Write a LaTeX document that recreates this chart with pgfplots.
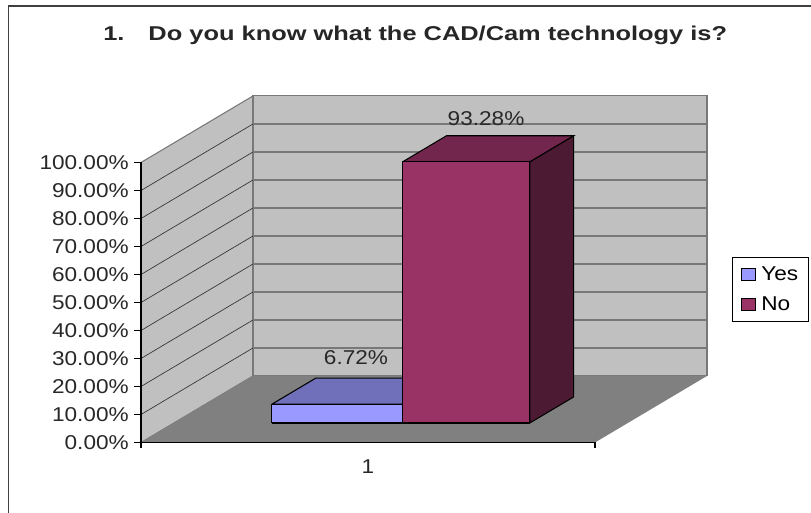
\documentclass[border=0pt]{standalone}
\usepackage{fontspec}
\setmainfont[FakeStretch=1.13]{Liberation Sans}
\newfontfamily\titlefam[FakeStretch=1.27]{Liberation Sans}
\usepackage{pgfplots}
\pgfplotsset{compat=1.18}
\definecolor{wall}{RGB}{192,192,192}
\definecolor{floorgray}{RGB}{128,128,128}
\definecolor{wallline}{RGB}{120,120,120}
\definecolor{yesfront}{RGB}{153,153,255}
\definecolor{yesdark}{RGB}{112,112,186}
\definecolor{nofront}{RGB}{153,51,102}
\definecolor{notop}{RGB}{115,38,77}
\definecolor{noside}{RGB}{77,26,51}
\definecolor{txt}{RGB}{40,40,40}
\newcommand{\chartfont}{\fontsize{15}{18}\selectfont}
\pgfplotsset{sqlegend/.style={legend image code/.code={\draw[##1,line width=0.8pt] (0cm,-0.16cm) rectangle (0.38cm,0.16cm);}}}
\begin{document}
\begin{tikzpicture}[x=0.75pt,y=0.75pt]
\useasboundingbox (0,0) rectangle (811,-513);
\draw[line width=1.2pt,black!75] (8.5,-513) -- (8.5,-6) -- (811,-6);
\begin{axis}[
    at={(105.75pt,-331.875pt)}, anchor=origin,
    x={(340.5pt,0pt)}, y={(84pt,49.9pt)}, z={(0pt,2.1pt)},
    xmin=0, xmax=1, ymin=0, ymax=1, zmin=0, zmax=100,
    clip=false,
    axis lines=left,
    axis line style={-,black,line width=0.9pt},
    y axis line style={draw=none},
    tick align=outside,
    tick style={draw=none},
    major tick length=0pt,
    ytick=\empty,
    xtick={0.5}, xticklabels={1},
    ztick={0,10,20,30,40,50,60,70,80,90,100},
    zticklabels={0.00\%,10.00\%,20.00\%,30.00\%,40.00\%,50.00\%,60.00\%,70.00\%,80.00\%,90.00\%,100.00\%},
    tick label style={font=\chartfont,text=txt},
    z tick label style={anchor=east,inner sep=0pt,xshift=-9pt},
    x tick label style={anchor=north,inner sep=0pt,yshift=-12.5pt},
    legend style={at={(axis cs:1.302,0,66.25)},anchor=north west,font=\chartfont,
        draw=black,line width=0.6pt,row sep=6.5pt,inner xsep=6pt,inner ysep=5pt},
    legend cell align=left,
]
% walls
\addplot3[fill=wall,draw=wallline,line width=0.8pt,forget plot] coordinates {(0,0,0) (0,1,0) (0,1,100) (0,0,100) (0,0,0)};
\addplot3[fill=wall,draw=wallline,line width=0.8pt,forget plot] coordinates {(0,1,0) (1,1,0) (1,1,100) (0,1,100) (0,1,0)};
% gridlines
\addplot3[black!80,line width=0.5pt,forget plot] coordinates {
(0,0,10) (0,1,10)

(0,0,20) (0,1,20)

(0,0,30) (0,1,30)

(0,0,40) (0,1,40)

(0,0,50) (0,1,50)

(0,0,60) (0,1,60)

(0,0,70) (0,1,70)

(0,0,80) (0,1,80)

(0,0,90) (0,1,90)
};
\addplot3[wallline,line width=1pt,forget plot] coordinates {
(0,1,10) (1,1,10)

(0,1,20) (1,1,20)

(0,1,30) (1,1,30)

(0,1,40) (1,1,40)

(0,1,50) (1,1,50)

(0,1,60) (1,1,60)

(0,1,70) (1,1,70)

(0,1,80) (1,1,80)

(0,1,90) (1,1,90)
};
% floor
\addplot3[fill=floorgray,draw=none,forget plot] coordinates {(0,0,0) (1,0,0) (1,1,0) (0,1,0) (0,0,0)};
% axis lines and tick marks
\addplot3[black,line width=0.9pt,forget plot] coordinates {
(0,0,0) (1,0,0)

(0,0,-2) (0,0,100)

(1,0,0) (1,0,-2)

(-0.015,0,0) (0,0,0)

(-0.015,0,10) (0,0,10)

(-0.015,0,20) (0,0,20)

(-0.015,0,30) (0,0,30)

(-0.015,0,40) (0,0,40)

(-0.015,0,50) (0,0,50)

(-0.015,0,60) (0,0,60)

(-0.015,0,70) (0,0,70)

(-0.015,0,80) (0,0,80)

(-0.015,0,90) (0,0,90)

(-0.015,0,100) (0,0,100)
};
% Yes bar
\addplot3[fill=yesdark,draw=black,line width=0.8pt,forget plot] coordinates {(0.216,0.293,6.72) (0.504,0.293,6.72) (0.504,0.685,6.72) (0.216,0.685,6.72) (0.216,0.293,6.72)};
\addplot3[fill=yesfront,draw=black,line width=0.8pt,forget plot] coordinates {(0.216,0.293,0) (0.504,0.293,0) (0.504,0.293,6.72) (0.216,0.293,6.72) (0.216,0.293,0)};
% No bar
\addplot3[fill=noside,draw=black,line width=0.8pt,forget plot] coordinates {(0.784,0.293,0) (0.784,0.685,0) (0.784,0.685,93.28) (0.784,0.293,93.28) (0.784,0.293,0)};
\addplot3[fill=notop,draw=black,line width=0.8pt,forget plot] coordinates {(0.504,0.293,93.28) (0.784,0.293,93.28) (0.784,0.685,93.28) (0.504,0.685,93.28) (0.504,0.293,93.28)};
\addplot3[fill=nofront,draw=black,line width=0.8pt,forget plot] coordinates {(0.504,0.293,0) (0.784,0.293,0) (0.784,0.293,93.28) (0.504,0.293,93.28) (0.504,0.293,0)};
\addlegendimage{sqlegend,fill=yesfront,draw=black}
\addlegendentry{\hspace{2pt}Yes\hspace{13pt}}
\addlegendimage{sqlegend,fill=nofront,draw=black}
\addlegendentry{\hspace{2pt}No}
\node[font=\chartfont,text=txt] at (axis cs:0.4736,0,30.2) {6.72\%};
\node[font=\chartfont,text=txt] at (axis cs:0.760,0,115.5) {93.28\%};
\node[font=\chartfont\bfseries\titlefam,text=black!85] at (axis cs:0.604,0,145.5) {1.\hspace{18pt}Do you know what the CAD/Cam technology is?};
\end{axis}
\end{tikzpicture}
\end{document}
